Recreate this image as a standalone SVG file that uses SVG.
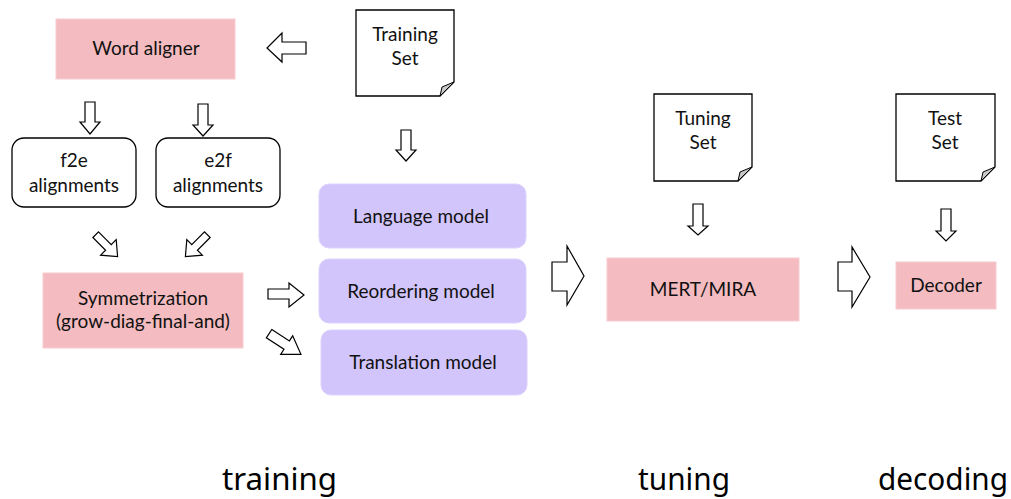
<svg xmlns="http://www.w3.org/2000/svg" width="1011" height="499" viewBox="0 0 1011 499">
<style>
.pink{fill:#f4bcc0;stroke:#f7cdd0;stroke-width:1}
.purple{fill:#d2c5fc;stroke:#dcd2fd;stroke-width:1}
.rbox{fill:#fff;stroke:#000;stroke-width:1.3}
.doc{fill:#fff;stroke:#000;stroke-width:1.3;stroke-linejoin:miter}
.fold{fill:#c8c8c8;stroke:#000;stroke-width:1}
.arr{fill:#fff;stroke:#000;stroke-width:1.2;stroke-linejoin:miter}
.t{font-family:Lato,"Liberation Sans",sans-serif;font-size:19px;fill:#111;text-anchor:middle}
.big{font-family:"Noto Sans","DejaVu Sans",sans-serif;font-size:30px;fill:#000;text-anchor:start}
</style>
<rect width="1011" height="499" fill="#fff"/>
<g id="word-aligner"><rect class="pink" x="56" y="19" width="179" height="60"/><text class="t" x="146" y="55">Word aligner</text></g>
<g id="training-set"><path class="doc" d="M356,10 H454 V82 L440,96 H356 Z"/><path class="fold" d="M454,82 L442,87 L440,96 Z"/><text class="t" x="405" y="41">Training</text><text class="t" x="405" y="65">Set</text></g>
<g id="f2e"><rect class="rbox" x="12" y="138" width="124" height="69" rx="12"/><text class="t" x="74" y="167">f2e</text><text class="t" x="74" y="192">alignments</text></g>
<g id="e2f"><rect class="rbox" x="156" y="138" width="124" height="69" rx="12"/><text class="t" x="218" y="167">e2f</text><text class="t" x="218" y="192">alignments</text></g>
<g id="symmetrization"><rect class="pink" x="43" y="273" width="200" height="75"/><text class="t" x="143" y="305">Symmetrization</text><text class="t" x="143" y="328">(grow-diag-final-and)</text></g>
<g id="language-model"><rect class="purple" x="319" y="184" width="207" height="64" rx="10"/><text class="t" x="421" y="223">Language model</text></g>
<g id="reordering-model"><rect class="purple" x="319" y="259" width="207" height="64" rx="10"/><text class="t" x="421" y="298">Reordering model</text></g>
<g id="translation-model"><rect class="purple" x="321" y="330" width="206" height="65" rx="10"/><text class="t" x="423" y="369">Translation model</text></g>
<g id="tuning-set"><path class="doc" d="M654,94 H752 V167 L738,181 H654 Z"/><path class="fold" d="M752,167 L740,172 L738,181 Z"/><text class="t" x="703" y="125">Tuning</text><text class="t" x="703" y="149">Set</text></g>
<g id="mert-mira"><rect class="pink" x="607" y="258" width="192" height="63"/><text class="t" x="703" y="296">MERT/MIRA</text></g>
<g id="test-set"><path class="doc" d="M896,94 H995 V167 L981,181 H896 Z"/><path class="fold" d="M995,167 L983,172 L981,181 Z"/><text class="t" x="945" y="125">Test</text><text class="t" x="945" y="149">Set</text></g>
<g id="decoder"><rect class="pink" x="896" y="262" width="100" height="47"/><text class="t" x="946" y="292">Decoder</text></g>
<g id="connectors">
<path class="arr" d="M306,42 H282 V33 L267,48 L282,62 V54 H306 Z"/>
<path class="arr" d="M85,102 H95 V122 H100 L90,134 L80,122 H85 Z"/>
<path class="arr" d="M198,104 H208 V125 H213 L203,136 L193,125 H198 Z"/>
<path class="arr" d="M401,130 H411 V150 H416 L406,161 L396,150 H401 Z"/>
<path class="arr" d="M693,204 H703 V226 H708 L698,235 L688,226 H693 Z"/>
<path class="arr" d="M941,209 H951 V231 H956 L946,241 L936,231 H941 Z"/>
<path class="arr" transform="translate(107,246) rotate(45)" d="M-16,-4 H2 V-11 L15,0 L2,11 V4 H-16 Z"/>
<path class="arr" transform="translate(196,246) rotate(135)" d="M-16,-4 H2 V-11 L15,0 L2,11 V4 H-16 Z"/>
<path class="arr" d="M268,289 H289 V283 L304,295 L289,307 V299 H268 Z"/>
<path class="arr" transform="translate(285,344) rotate(33)" d="M-19,-5 H2 V-11 L19,0 L2,11 V5 H-19 Z"/>
<path class="arr" d="M552,262 H567 V246 L584,276 L567,305 V291 H552 Z"/>
<path class="arr" d="M838,262 H852 V247 L870,277 L852,307 V291 H838 Z"/>
</g>
<g id="labels">
<text class="big" x="222" y="490" textLength="115" lengthAdjust="spacingAndGlyphs">training</text>
<text class="big" x="638" y="490" textLength="92" lengthAdjust="spacingAndGlyphs">tuning</text>
<text class="big" x="878" y="490" textLength="130" lengthAdjust="spacingAndGlyphs">decoding</text>
</g>
</svg>
